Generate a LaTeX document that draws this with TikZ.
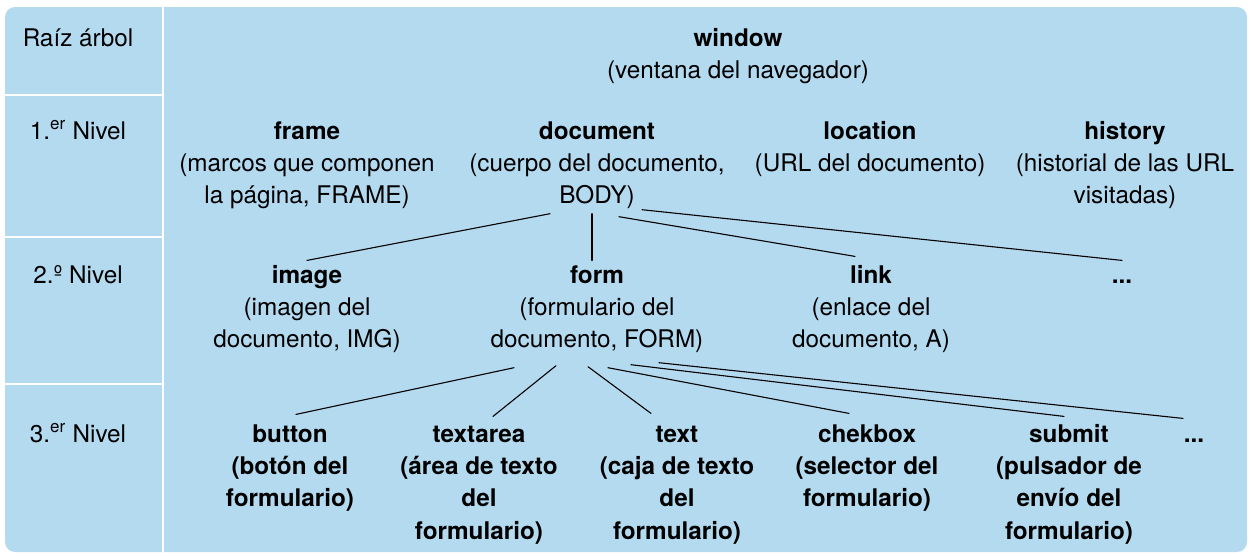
\documentclass[tikz,border=0pt]{standalone}
\usepackage{fontspec}
\setmainfont{TeX Gyre Heros}
\usetikzlibrary{positioning, calc}
\definecolor{fondo}{RGB}{180,218,240}
\newcommand{\tamtexto}{\fontsize{24.3}{32.3}\selectfont}
\newcommand{\puntal}{\rule[-9.7pt]{0pt}{32.3pt}}

\begin{document}
\begin{tikzpicture}[x=1pt, y=-1pt, line cap=round,
    nivel/.style={font=\tamtexto, anchor=base},
    objeto/.style={font=\tamtexto, align=center, inner sep=0pt, anchor=north,
        execute at end node=\puntal},
    hoja/.style={objeto, font=\tamtexto\bfseries},
    rama/.style={line width=1.1pt}]
\useasboundingbox (0,0) rectangle (1251,555);

        %fondo y separadores
        \fill[fondo, rounded corners=10pt] (5,7) rectangle (1247,552);
        \draw[white, line width=2.5pt] (163,5) -- (163,553);
        \foreach \y in {95,237,384}
            \draw[white, line width=2.5pt] (4,\y) -- (163,\y);

        %columna de niveles
        \node[nivel] (raiz) at (78,46) {Raíz árbol};
        \node[nivel] (nivel1) at (78,139) {1.\textsuperscript{er} Nivel};
        \node[nivel] (nivel2) at (78,283) {2.º Nivel};
        \node[nivel] (nivel3) at (78,442) {3.\textsuperscript{er} Nivel};

        %raiz
        \node[objeto] (ventana) at (738,23.4) {\puntal\textbf{window}\\(ventana del navegador)};

        %primer nivel
        \node[objeto] (marco) at (307,116.4) {\puntal\textbf{frame}\\(marcos que componen\\la página, FRAME)};
        \node[objeto] (doc) at (597,116.4) {\puntal\textbf{document}\\(cuerpo del documento,\\BODY)};
        \node[objeto] (lugar) at (870,116.4) {\puntal\textbf{location}\\(URL del documento)};
        \node[objeto] (historial) at (1125,116.4) {\puntal\textbf{history}\\(historial de las URL\\visitadas)};

        %segundo nivel
        \node[objeto] (imagen) at (307,260.4) {\puntal\textbf{image}\\(imagen del\\documento, IMG)};
        \node[objeto] (form) at (597,260.4) {\puntal\textbf{form}\\(formulario del\\documento, FORM)};
        \node[objeto] (enlace) at (871,260.4) {\puntal\textbf{link}\\(enlace del\\documento, A)};
        \node[objeto] (puntos2) at (1122,260.4) {\puntal\textbf{...}};

        %tercer nivel
        \node[hoja] (boton) at (290,419.4) {\puntal button\\(botón del\\formulario)};
        \node[hoja] (areatexto) at (479,419.4) {\puntal textarea\\(área de texto\\del\\formulario)};
        \node[hoja] (texto) at (677,419.4) {\puntal text\\(caja de texto\\del\\formulario)};
        \node[hoja] (selector) at (867,419.4) {\puntal chekbox\\(selector del\\formulario)};
        \node[hoja] (envio) at (1069,419.4) {\puntal submit\\(pulsador de\\envío del\\formulario)};
        \node[hoja] (puntos3) at (1194,419.4) {\puntal ...};

        %ramas de document
        \draw[rama] ([xshift=-47pt]doc.south) -- (imagen.north);
        \draw[rama] ([xshift=-5pt]doc.south) -- ([xshift=-5pt]form.north);
        \draw[rama] ([xshift=22pt,yshift=-3pt]doc.south) -- ([xshift=-16pt,yshift=4pt]enlace.north);
        \draw[rama] ([xshift=45pt,yshift=4pt]doc.south) -- (puntos2.north);

        %ramas de form
        \draw[rama] ([xshift=-83pt,yshift=-10pt]form.south) -- ([xshift=6pt,yshift=5pt]boton.north);
        \draw[rama] ([xshift=-41pt,yshift=-8pt]form.south) -- ([xshift=14pt,yshift=3pt]areatexto.north);
        \draw[rama] ([xshift=-9pt,yshift=-9pt]form.south) -- ([xshift=-26pt,yshift=6pt]texto.north);
        \draw[rama] ([xshift=11pt,yshift=-10pt]form.south) -- ([xshift=-18pt,yshift=6pt]selector.north);
        \draw[rama] ([xshift=34pt,yshift=-7pt]form.south) -- ([xshift=-5pt,yshift=3pt]envio.north);
        \draw[rama] ([xshift=62pt,yshift=-5pt]form.south) -- ([xshift=-11pt,yshift=1pt]puntos3.north);
\end{tikzpicture}
\end{document}
